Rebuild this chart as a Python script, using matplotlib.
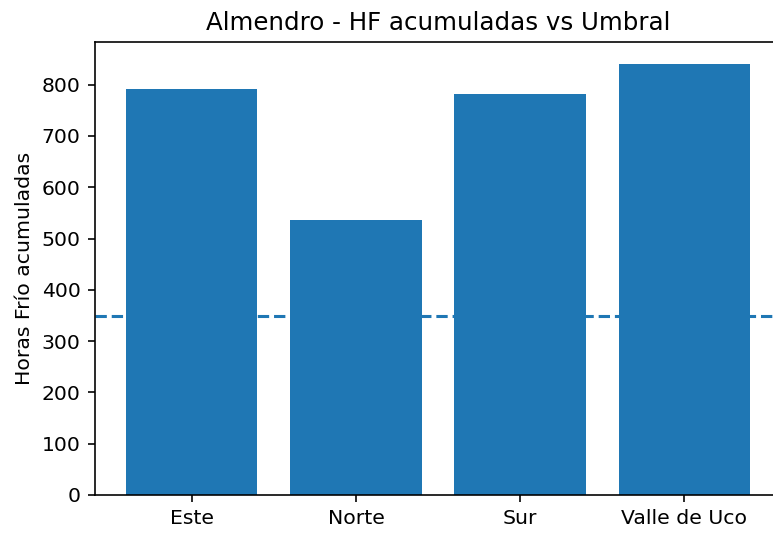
import matplotlib
matplotlib.use("Agg")
import matplotlib.pyplot as plt

regions = ["Este", "Norte", "Sur", "Valle de Uco"]
hf_values = [791, 537, 781, 841]
threshold = 348

DPI = 147
W, H = 773, 534
fig = plt.figure(figsize=(W / DPI, H / DPI), dpi=DPI)
ax = fig.add_axes([95 / W, (H - 495) / H, 686 / W, 453 / H])

ax.bar(regions, hf_values, color="C0")
ax.axhline(threshold, linestyle="--", color="C0")
ax.set_title("Almendro - HF acumuladas vs Umbral")
ax.set_ylabel("Horas Frío acumuladas")

fig.savefig("out.png", dpi=DPI)
